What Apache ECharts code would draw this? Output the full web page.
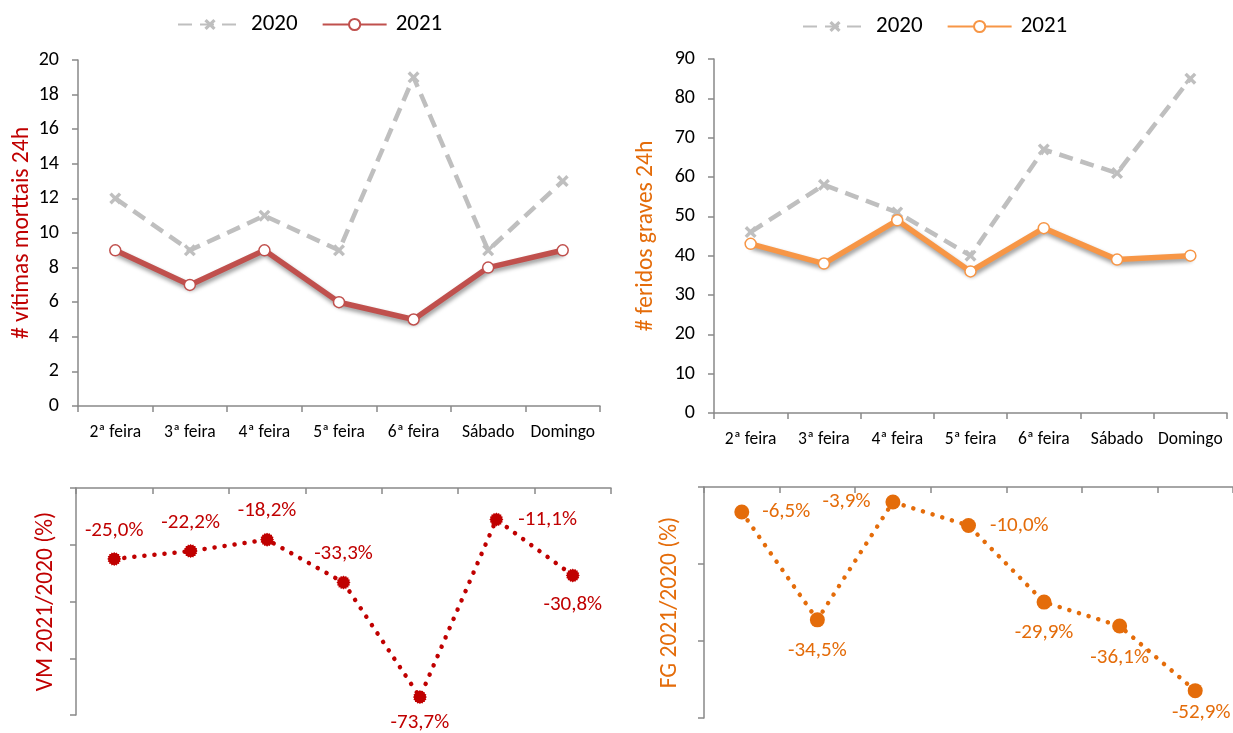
<!DOCTYPE html>
<html>
<head>
<meta charset="utf-8">
<script src="https://cdn.jsdelivr.net/npm/echarts@6/dist/echarts.min.js"></script>
<style>
  html, body { margin: 0; padding: 0; background: #fff; }
  #main { width: 1233px; height: 733px; }
</style>
</head>
<body>
<div id="main"></div>
<script>
// dias da semana
const days = ['2ª feira', '3ª feira', '4ª feira', '5ª feira', '6ª feira', 'Sábado', 'Domingo'];
// vitimas mortais 24h
const vm2020 = [12, 9, 11, 9, 19, 9, 13];
const vm2021 = [9, 7, 9, 6, 5, 8, 9];
// feridos graves 24h
const fg2020 = [46, 58, 51, 40, 67, 61, 85];
const fg2021 = [43, 38, 49, 36, 47, 39, 40];
// variacao 2021/2020 (%)
const vmVar = [-25.0, -22.2, -18.2, -33.3, -73.7, -11.1, -30.8];
const fgVar = [-6.5, -34.5, -3.9, -10.0, -29.9, -36.1, -52.9];

const FONT = 'Carlito, Calibri, Lato, sans-serif';
const axisGray = '#898989';
const red = '#c0504d', darkRed = '#c00000';
const orange = '#f79646', darkOrange = '#e46c0a';
const grey = '#bfbfbf';

// simbolo "x"
const crossPath = 'path://M2,0L5,3L8,0L10,2L7,5L10,8L8,10L5,7L2,10L0,8L3,5L0,2Z';
// simbolo "estrela" (circulo serrilhado)
function burstPath() {
  let pts = [];
  for (let i = 0; i < 32; i++) {
    let r = i % 2 ? 8.4 : 10;
    let a = Math.PI * i / 16;
    pts.push((10 + r * Math.cos(a)).toFixed(2) + ',' + (10 + r * Math.sin(a)).toFixed(2));
  }
  return 'path://M' + pts.join('L') + 'Z';
}

function pct(p) {
  return p.value.toFixed(1).replace('.', ',') + '%';
}

function catAxis(gi, pos) {
  return {
    type: 'category', gridIndex: gi, data: days, position: pos || 'bottom',
    axisLine: { lineStyle: { color: axisGray, width: 1.5 } },
    axisTick: { show: true, inside: pos === 'top', length: 6, lineStyle: { color: axisGray, width: 1.5 } },
    axisLabel: { show: !pos, interval: 0, color: '#000', fontFamily: FONT, fontSize: 17.5, margin: 18 },
    splitLine: { show: false }
  };
}

function valAxis(gi, min, max, interval, name, nameColor, gap, showLabel) {
  return {
    type: 'value', gridIndex: gi, min: min, max: max, interval: interval,
    name: name, nameLocation: 'middle', nameGap: gap, nameRotate: 90,
    nameTextStyle: { color: nameColor, fontFamily: FONT, fontSize: 23.5 },
    axisLine: { show: true, lineStyle: { color: axisGray, width: 1.5 } },
    axisTick: { show: true, length: 6, lineStyle: { color: axisGray, width: 1.5 } },
    axisLabel: { show: showLabel, color: '#000', fontFamily: FONT, fontSize: 20, margin: 19 },
    splitLine: { show: false }
  };
}

function lastYear(name, xi, data) {
  return {
    name: name, type: 'line', xAxisIndex: xi, yAxisIndex: xi, data: data,
    symbol: crossPath, symbolSize: 12, showAllSymbol: true,
    itemStyle: { color: grey },
    lineStyle: { color: grey, width: 4.5, type: [14, 8] },
    z: 2
  };
}

function thisYear(name, xi, data, color) {
  return {
    name: name, type: 'line', xAxisIndex: xi, yAxisIndex: xi, data: data,
    symbol: 'circle', symbolSize: 11, showAllSymbol: true,
    itemStyle: { color: '#fff', borderColor: color, borderWidth: 1.5 },
    lineStyle: { color: color, width: 5.5, shadowColor: 'rgba(0,0,0,0.4)', shadowBlur: 4, shadowOffsetX: 1, shadowOffsetY: 3 },
    z: 3
  };
}

function varData(vals, places) {
  return vals.map((v, i) => {
    let p = places[i];
    return { value: v, label: { position: p[0], distance: p[1], offset: p[2] || [0, 0] } };
  });
}

const vmPlaces = [['top', 11], ['top', 11], ['top', 11], ['top', 11], ['bottom', 8], ['right', 15], ['bottom', 12]];
const fgPlaces = [['right', 13], ['bottom', 13], ['left', 15], ['right', 14], ['bottom', 13], ['bottom', 14], ['bottom', 4, [6, 0]]];

const legendBase = {
  itemWidth: 64, itemHeight: 14, itemGap: 24,
  textStyle: { fontFamily: FONT, fontSize: 23, color: '#000', padding: [0, 0, 0, 4] },
  formatter: n => n.trim()
};

const chart = echarts.init(document.getElementById('main'));
chart.setOption({
  backgroundColor: '#fff',
  animation: false,
  legend: [
    Object.assign({ data: ['2020', '2021'], left: 172, top: 8 }, legendBase),
    Object.assign({ data: ['2020 ', '2021 '], left: 797, top: 10 }, legendBase)
  ],
  grid: [
    { left: 78, top: 60, width: 522, height: 346 },
    { left: 714, top: 59, width: 513, height: 354 },
    { left: 76, top: 488, width: 535, height: 227 },
    { left: 704, top: 487, width: 532, height: 231 }
  ],
  xAxis: [catAxis(0), catAxis(1), catAxis(2, 'top'), catAxis(3, 'top')],
  yAxis: [
    valAxis(0, 0, 20, 2, '# vítimas morttais 24h', darkRed, 44, true),
    valAxis(1, 0, 90, 10, '# feridos graves 24h', darkOrange, 56, true),
    valAxis(2, -80, 0, 20, 'VM 2021/2020 (%)', darkRed, 18, false),
    valAxis(3, -60, 0, 20, 'FG 2021/2020 (%)', darkOrange, 22, false)
  ],
  series: [
    lastYear('2020', 0, vm2020),
    thisYear('2021', 0, vm2021, red),
    lastYear('2020 ', 1, fg2020),
    thisYear('2021 ', 1, fg2021, orange),
    {
      name: 'VM var', type: 'line', xAxisIndex: 2, yAxisIndex: 2,
      data: varData(vmVar, vmPlaces),
      symbol: burstPath(), symbolSize: 14, showAllSymbol: true,
      itemStyle: { color: darkRed },
      lineStyle: { color: darkRed, width: 4.5, type: [0.1, 10], cap: 'round' },
      label: { show: true, formatter: pct, color: darkRed, fontFamily: FONT, fontSize: 21 }
    },
    {
      name: 'FG var', type: 'line', xAxisIndex: 3, yAxisIndex: 3,
      data: varData(fgVar, fgPlaces),
      symbol: 'circle', symbolSize: 15, showAllSymbol: true,
      itemStyle: { color: darkOrange },
      lineStyle: { color: darkOrange, width: 4.5, type: [0.1, 10], cap: 'round' },
      label: { show: true, formatter: pct, color: darkOrange, fontFamily: FONT, fontSize: 21 }
    }
  ]
});
</script>
</body>
</html>
